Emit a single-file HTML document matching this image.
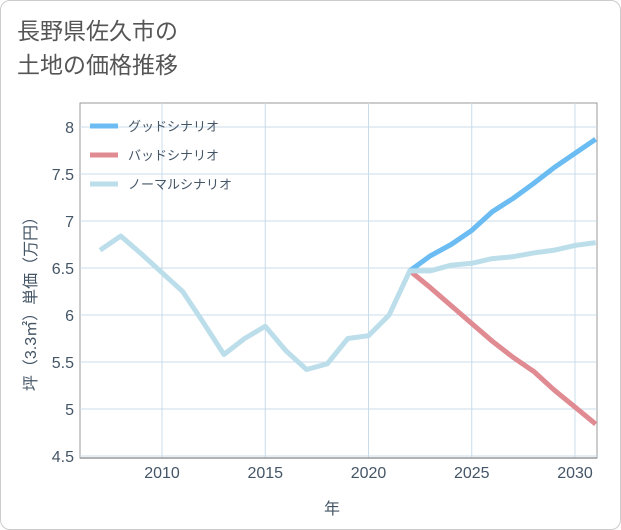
<!DOCTYPE html>
<html><head><meta charset="utf-8"><style>
html,body{margin:0;padding:0;background:#fff;}
body{width:621px;height:530px;overflow:hidden;font-family:"Liberation Sans","Noto Sans CJK JP",sans-serif;}
.card{position:absolute;left:0;top:0;width:619px;height:528px;border:1px solid #ccc;border-radius:10px;background:#fff;}
.title{position:absolute;left:17px;top:14px;font-size:23px;line-height:34px;color:#555;}
svg{position:absolute;left:0;top:0;}
</style></head><body>
<div class="card"></div>
<div class="title">長野県佐久市の<br>土地の価格推移</div>
<svg id="chart" width="621" height="530"></svg>
<script>
const years = [2007,2008,2009,2010,2011,2012,2013,2014,2015,2016,2017,2018,2019,2020,2021,2022,2023,2024,2025,2026,2027,2028,2029,2030,2031];
const normalValues = [6.69,6.84,6.65,6.45,6.25,5.92,5.58,5.75,5.88,5.62,5.42,5.48,5.75,5.78,6.0,6.47,6.47,6.53,6.55,6.6,6.62,6.66,6.69,6.74,6.77];
const forecastYears = [2022,2023,2024,2025,2026,2027,2028,2029,2030,2031];
const goodValues = [6.47,6.63,6.75,6.9,7.1,7.24,7.4,7.57,7.72,7.87];
const badValues = [6.47,6.29,6.1,5.91,5.72,5.55,5.4,5.2,5.02,4.84];
const yTicks = [4.5,5,5.5,6,6.5,7,7.5,8];
const yTickLabels = ["4.5","5","5.5","6","6.5","7","7.5","8"];
const xTicks = [2010,2015,2020,2025,2030];
const legendLabels = ["グッドシナリオ","バッドシナリオ","ノーマルシナリオ"];

const L=80,R=597,T=103,B=458;
const x = yr => 162 + (yr-2010)*20.65;
const y = v => 127 + (8-v)*94;
const svg=document.getElementById('chart');
const NS='http://www.w3.org/2000/svg';
function mk(tag,attrs){const e=document.createElementNS(NS,tag);for(const k in attrs)e.setAttribute(k,attrs[k]);svg.appendChild(e);return e;}

const frame=mk('rect',{x:L,y:T,width:R-L,height:B-T,fill:'#fff',stroke:'#999','stroke-width':1});


yTicks.forEach((t,i)=>{
  const g=mk('line',{x1:L,x2:R,y1:y(t),y2:y(t),stroke:'#c8dcea','stroke-width':1});
  
  
  const tx=mk('text',{x:74,y:y(t)+6,'text-anchor':'end','font-size':16,fill:'#456'});
  tx.textContent=yTickLabels[i];
  
  
});
xTicks.forEach(t=>{
  const g=mk('line',{x1:x(t),x2:x(t),y1:T,y2:B,stroke:'#c8dcea','stroke-width':1});
  
  
  const tx=mk('text',{x:x(t),y:478,'text-anchor':'middle','font-size':16,fill:'#456'});
  tx.textContent=String(t);
  
  
});
const ax=mk('line',{x1:L,x2:R,y1:B,y2:B,stroke:'#999','stroke-width':1.5});


const xt=mk('text',{x:332,y:514,'text-anchor':'middle','font-size':16,fill:'#456'});
xt.textContent='年';


const yt=mk('text',{x:0,y:0,'text-anchor':'middle','font-size':16,fill:'#456',transform:'translate(36,300) rotate(-90)'});
yt.textContent='坪（3.3㎡）単価（万円）';



function line(xs,vs,color,name){
  const p=mk('polyline',{points:xs.map((yr,i)=>x(yr)+','+y(vs[i])).join(' '),fill:'none',stroke:color,'stroke-width':5,'stroke-linejoin':'round'});
  
  
}
line(forecastYears,badValues,'#e08a92','bad-scenario-line');
line(forecastYears,goodValues,'#6bbcf2','good-scenario-line');
line(years,normalValues,'#bcdeeb','normal-scenario-line');

const colors=['#6bbcf2','#e08a92','#bcdeeb'];
legendLabels.forEach((lab,i)=>{
  const ly=126+i*29;
  const s=mk('line',{x1:90,x2:118,y1:ly,y2:ly,stroke:colors[i],'stroke-width':5});
  
  
  const t=mk('text',{x:128,y:ly+5,'font-size':13,fill:'#456'});
  t.textContent=lab;
  
  
});
</script>
</body></html>
